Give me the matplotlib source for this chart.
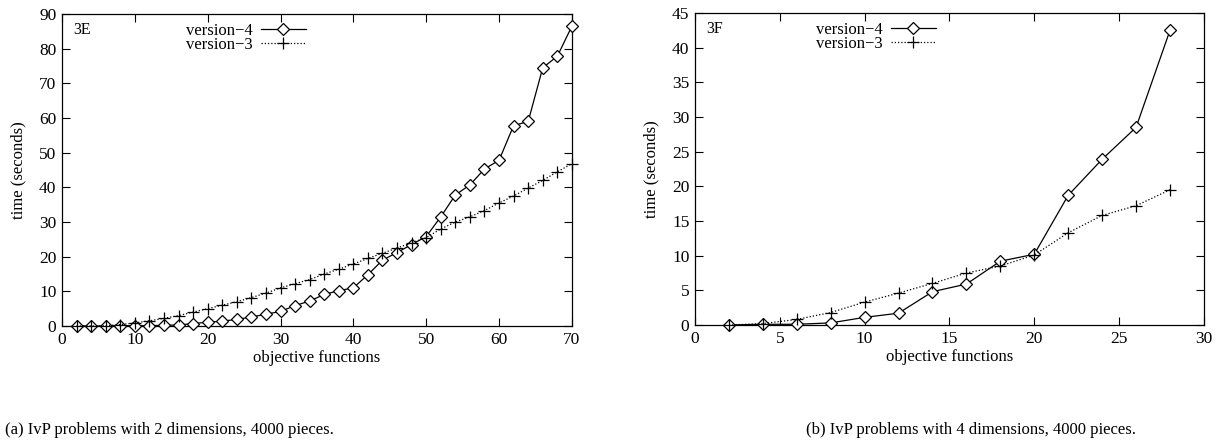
import matplotlib
matplotlib.use("Agg")
import matplotlib.pyplot as plt

plt.rcParams['font.family'] = ['Liberation Serif', 'DejaVu Serif']

# panel (a): 2 dimensions
x_a = list(range(2, 71, 2))
v4_a = [0, 0, 0, 0.1, 0.1, 0.1, 0.2, 0.3, 0.7, 1.1, 1.4, 1.9, 2.6, 3.4, 4.2,
        5.9, 7.2, 9.1, 10.2, 11.0, 14.8, 19.0, 21.2, 23.5, 25.8, 31.5, 37.8,
        40.7, 45.3, 47.8, 57.8, 59.0, 74.5, 77.8, 86.5]
v3_a = [0, 0, 0.1, 0.4, 0.9, 1.5, 2.2, 3.0, 4.0, 5.0, 6.0, 7.0, 8.2, 9.5, 11.0,
        12.2, 13.4, 15.0, 16.4, 17.9, 19.5, 21.0, 22.5, 24.0, 25.5, 28.0, 30.0,
        31.5, 33.3, 35.5, 37.5, 39.8, 42.0, 44.5, 46.8]

# panel (b): 4 dimensions
x_b = list(range(2, 29, 2))
v4_b = [0, 0.1, 0.1, 0.3, 1.1, 1.7, 4.8, 5.9, 9.2, 10.2, 18.7, 23.9, 28.5, 42.5]
v3_b = [0, 0.2, 0.8, 1.8, 3.3, 4.6, 6.0, 7.5, 8.5, 10.1, 13.3, 15.8, 17.2, 19.5]

fig = plt.figure(figsize=(12.22, 4.45), dpi=100)
ax1 = fig.add_axes([0.0507, 0.2674, 0.4173, 0.7011])
ax2 = fig.add_axes([0.5687, 0.2697, 0.4165, 0.7011])


def draw_panel(ax, x, v4, v3, tag, xmax, xstep, ymax, ystep, leg_x):
    ax.plot(x, v4, color='black', lw=0.9, marker='D', markersize=6.5,
            markerfacecolor='white', markeredgecolor='black', mew=0.9,
            label='version\u22124', clip_on=False, zorder=3)
    ax.plot(x, v3, color='black', lw=0.9, linestyle=(0, (1, 1.6)), marker='+',
            markersize=9, mew=0.9, label='version\u22123', clip_on=False, zorder=3)
    ax.set_xlim(0, xmax)
    ax.set_ylim(0, ymax)
    ax.set_xticks(range(0, xmax + 1, xstep))
    ax.set_yticks(range(0, ymax + 1, ystep))
    ax.tick_params(direction='in', length=6, width=0.8, top=True, right=True,
                   labelsize=12.5, pad=4)
    for s in ax.spines.values():
        s.set_linewidth(0.9)
    ax.set_xlabel('objective functions', fontsize=12, labelpad=2)
    ax.set_ylabel('time (seconds)', fontsize=12, labelpad=9)
    ax.text(0.022, 0.95, tag, transform=ax.transAxes, fontsize=11.5,
            ha='left', va='center')
    ax.legend(loc='upper right', bbox_to_anchor=(leg_x, 0.972), frameon=False,
              markerfirst=False, fontsize=12, handlelength=2.7, handletextpad=0.5,
              labelspacing=-0.1, borderpad=0, borderaxespad=0)


draw_panel(ax1, x_a, v4_a, v3_a, '3E', 70, 10, 90, 10, 0.478)
draw_panel(ax2, x_b, v4_b, v3_b, '3F', 30, 5, 45, 5, 0.4735)

fig.text(0.139, 0.033, '(a) IvP problems with 2 dimensions, 4000 pieces.',
         ha='center', va='center', fontsize=12)
fig.text(0.795, 0.033, '(b) IvP problems with 4 dimensions, 4000 pieces.',
         ha='center', va='center', fontsize=12)

fig.savefig('out.png', dpi=100)
